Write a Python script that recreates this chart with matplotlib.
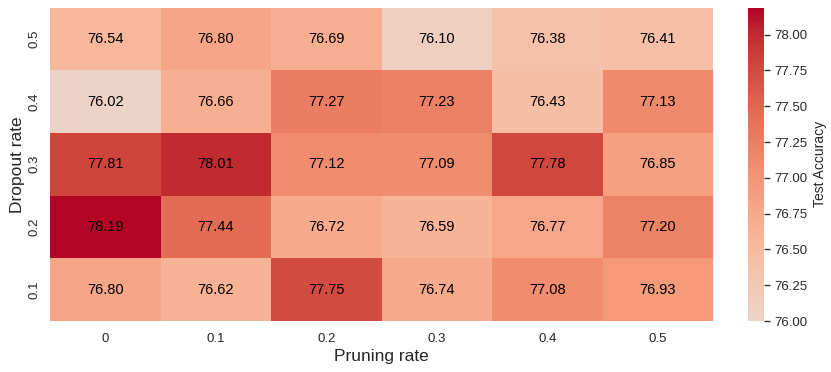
import numpy as np
import matplotlib
matplotlib.use("Agg")
import matplotlib.pyplot as plt
import seaborn as sns

dropout_rates = ["0.5", "0.4", "0.3", "0.2", "0.1"]
pruning_rates = ["0", "0.1", "0.2", "0.3", "0.4", "0.5"]
acc_05 = [76.54, 76.80, 76.69, 76.10, 76.38, 76.41]
acc_04 = [76.02, 76.66, 77.27, 77.23, 76.43, 77.13]
acc_03 = [77.81, 78.01, 77.12, 77.09, 77.78, 76.85]
acc_02 = [78.19, 77.44, 76.72, 76.59, 76.77, 77.20]
acc_01 = [76.80, 76.62, 77.75, 76.74, 77.08, 76.93]

data = np.array([acc_05, acc_04, acc_03, acc_02, acc_01])

sns.set_theme(style="white")
plt.rcParams['font.family'] = ['Liberation Sans', 'DejaVu Sans']

fig = plt.figure(figsize=(8.31, 3.72), dpi=100)
ax = fig.add_axes([50/831, 1 - 321/372, (713-50)/831, (321-7.5)/372])
cax = fig.add_axes([748/831, 1 - 321/372, 16/831, (321-7.5)/372])

sns.heatmap(data, ax=ax, cbar_ax=cax, cmap="coolwarm", vmin=76.0, center=75.7,
            annot=True, fmt=".2f", annot_kws={"color": "black", "fontsize": 10.5},
            xticklabels=pruning_rates, yticklabels=dropout_rates,
            cbar_kws={"label": "Test Accuracy", "ticks": np.arange(76.0, 78.01, 0.25)})

ax.set_xlabel("Pruning rate", fontsize=12.5, labelpad=3)
ax.set_ylabel("Dropout rate", fontsize=12.5, labelpad=2.5)
ax.tick_params(axis='both', labelsize=9.5, length=0)
ax.tick_params(axis='x', pad=8.5)
ax.tick_params(axis='y', pad=7)
for t in ax.get_yticklabels():
    t.set_rotation(90)
    t.set_va("center")
cax.tick_params(labelsize=9.5, length=4, width=1, color="#333333", left=False, right=True)
cax.yaxis.set_major_formatter(matplotlib.ticker.FormatStrFormatter("%.2f"))
cax.set_ylabel("Test Accuracy", fontsize=10)
for s in cax.spines.values():
    s.set_visible(False)

fig.savefig("out.png", dpi=100)
